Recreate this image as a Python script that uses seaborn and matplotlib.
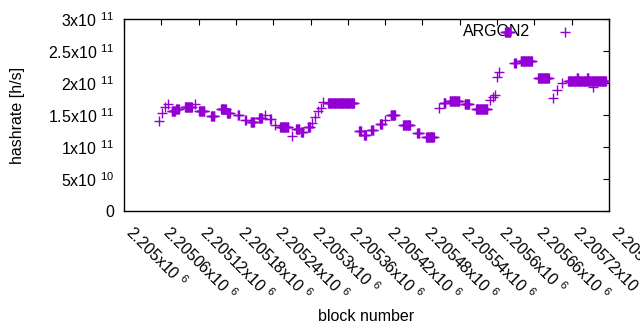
import numpy as np
import pandas as pd
import matplotlib
matplotlib.use("Agg")
import matplotlib.pyplot as plt
import seaborn as sns

# block offsets from 2205000 and hashrate (x1e11 h/s) of each constant run
BASE_BLOCK = 2205000
seg_start = [56, 61, 66, 71, 77, 84, 98, 114, 121, 140, 156, 166, 183, 195, 204, 217, 227,
             235, 243, 251, 270, 277, 285, 296, 302, 307, 312, 317, 320, 328, 378, 386, 398,
             412, 420, 429, 449, 472, 486, 507, 514, 524, 548, 566, 589, 593, 597, 600, 603,
             613, 628, 638, 666, 690, 696, 704, 714, 728, 745, 754]
seg_end = [56, 61, 66, 71, 82, 88, 109, 114, 129, 145, 164, 170, 185, 196, 209, 222, 227,
           236, 243, 264, 270, 282, 288, 299, 302, 307, 312, 317, 320, 370, 381, 389, 401,
           415, 420, 436, 460, 475, 498, 507, 517, 539, 555, 584, 589, 593, 597, 600, 603,
           621, 630, 656, 683, 690, 696, 704, 775, 730, 747, 754]
seg_val = [1.41, 1.53, 1.62, 1.67, 1.56, 1.59, 1.62, 1.67, 1.56, 1.48, 1.59, 1.53, 1.50, 1.42,
           1.39, 1.45, 1.50, 1.44, 1.34, 1.31, 1.17, 1.28, 1.24, 1.31, 1.38, 1.47, 1.56, 1.61,
           1.70, 1.69, 1.25, 1.19, 1.27, 1.36, 1.42, 1.50, 1.34, 1.22, 1.16, 1.61, 1.69, 1.72,
           1.67, 1.60, 1.73, 1.78, 1.82, 2.09, 2.17, 2.80, 2.31, 2.34, 2.08, 1.77, 1.89, 2.00,
           2.03, 2.08, 2.08, 1.94]

x_ticks = [BASE_BLOCK + 60 * i for i in range(14)]
x_labels = ["2.205x10 $^{6}$", "2.20506x10 $^{6}$", "2.20512x10 $^{6}$", "2.20518x10 $^{6}$",
            "2.20524x10 $^{6}$", "2.2053x10 $^{6}$", "2.20536x10 $^{6}$", "2.20542x10 $^{6}$",
            "2.20548x10 $^{6}$", "2.20554x10 $^{6}$", "2.2056x10 $^{6}$", "2.20566x10 $^{6}$",
            "2.20572x10 $^{6}$", "2.20578x10 $^{6}$"]
y_ticks = [0, 0.5e11, 1e11, 1.5e11, 2e11, 2.5e11, 3e11]
y_labels = ["0", "5x10 $^{10}$", "1x10 $^{11}$", "1.5x10 $^{11}$", "2x10 $^{11}$",
            "2.5x10 $^{11}$", "3x10 $^{11}$"]

# one point per block
blocks, rates = [], []
for s, e, v in zip(seg_start, seg_end, seg_val):
    for b in range(s, e + 1):
        blocks.append(BASE_BLOCK + b)
        rates.append(v * 1e11)
df = pd.DataFrame({"block": blocks, "hashrate": rates})

sns.set_style("white")
plt.rcParams['font.family'] = ['Liberation Sans', 'DejaVu Sans']
plt.rcParams['mathtext.default'] = 'regular'
plt.rcParams['text.color'] = 'black'
plt.rcParams['axes.labelcolor'] = 'black'
plt.rcParams['xtick.color'] = 'black'
plt.rcParams['ytick.color'] = 'black'
FS = 11.5

fig = plt.figure(figsize=(6.4, 3.3), dpi=100)
ax = fig.add_axes([124 / 640, 1 - 211 / 330, (609 - 124) / 640, (211 - 19) / 330])

sns.scatterplot(data=df, x="block", y="hashrate", marker="+", color="#9400d3",
                s=42, linewidth=1, label="ARGON2", ax=ax, zorder=3)

ax.set_xlim(BASE_BLOCK, BASE_BLOCK + 780)
ax.set_ylim(0, 3e11)
ax.set_xticks(x_ticks)
ax.set_xticklabels(x_labels, rotation=-45, ha="left", va="baseline", rotation_mode="anchor",
                   fontsize=FS)
ax.set_yticks(y_ticks)
ax.set_yticklabels(y_labels, fontsize=FS)
ax.tick_params(direction="in", top=True, right=True, length=4, width=0.8, pad=7)
ax.tick_params(axis="x", pad=16)
for sp in ax.spines.values():
    sp.set_color("black")
    sp.set_linewidth(1)

ax.set_xlabel("block number", fontsize=FS, labelpad=4)
ax.set_ylabel("hashrate [h/s]", fontsize=FS, labelpad=16)

leg = ax.legend(loc="center right", bbox_to_anchor=(581 / 640, 1 - 32 / 330),
                bbox_transform=fig.transFigure, markerfirst=False, frameon=False,
                handlelength=2, handletextpad=1.2, borderpad=0, borderaxespad=0,
                fontsize=FS)
leg.set_zorder(1)

fig.savefig("out.png", dpi=100)
